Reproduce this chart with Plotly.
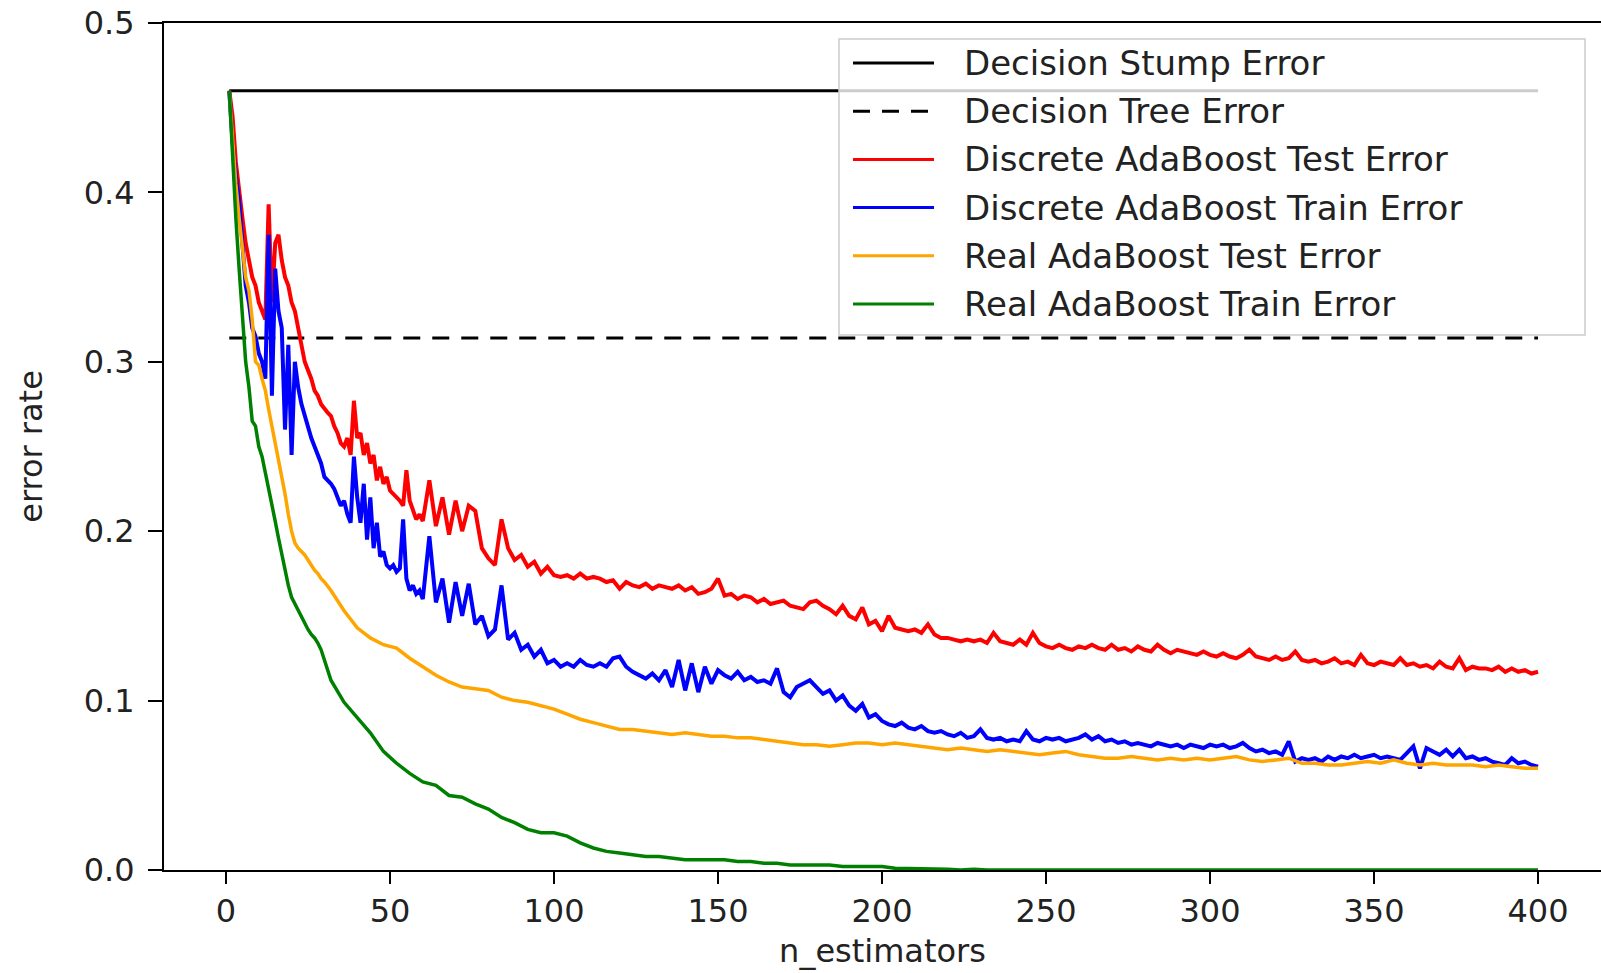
import plotly.graph_objects as go

# ---------------- data ----------------
n_discrete = list(range(1, 61)) + list(range(62, 401, 2))
n_real = list(range(1, 31)) + list(range(32, 401, 4))

stump_error = 0.46
tree_error = 0.314
ref_x = [1, 400]

discrete_test = [
    .46, .445, .418, .40, .385, .37, .36, .35, .345, .335,
    .33, .325, .393, .335, .37, .375, .36, .35, .345, .335,
    .33, .32, .31, .30, .295, .29, .283, .28, .275, .272,
    .27, .268, .262, .258, .252, .25, .255, .245, .277, .255,
    .258, .245, .252, .24, .245, .23, .238, .228, .232, .224,
    .222, .22, .218, .215, .236, .218, .212, .207, .21, .206,
    # 62..400 step 2
    .23, .203, .22, .198, .218, .2, .215, .212, .19, .184,
    .18, .207, .19, .183, .186, .179, .182, .175, .179, .174,
    .173, .174, .172, .175, .172, .173, .172, .17, .171, .166,
    .17, .168, .167, .169, .166, .168, .167, .166, .168, .165,
    .167, .163, .164, .166, .172, .162, .163, .16, .162, .161,
    .158, .16, .157, .158, .159, .156, .155, .154, .158, .159,
    .156, .154, .151, .156, .15, .148, .155, .145, .147, .141,
    .15, .143, .142, .141, .142, .14, .145, .139, .137, .137,
    .136, .135, .136, .135, .136, .134, .14, .135, .134, .133,
    .136, .133, .14, .134, .132, .131, .133, .131, .13, .132,
    .131, .133, .131, .13, .133, .13, .131, .129, .132, .13,
    .129, .133, .13, .128, .13, .129, .128, .127, .129, .127,
    .126, .128, .126, .125, .127, .13, .126, .125, .124, .126,
    .124, .125, .129, .124, .123, .124, .122, .123, .125, .122,
    .123, .121, .127, .122, .121, .123, .122, .121, .125, .121,
    .122, .12, .121, .119, .123, .12, .119, .125, .118, .12,
    .119, .119, .118, .12, .117, .119, .117, .118, .116, .117,
]

discrete_train = [
    .46, .43, .41, .395, .37, .345, .335, .32, .315, .305,
    .30, .29, .375, .28, .355, .33, .32, .26, .31, .245,
    .30, .285, .275, .268, .26, .255, .25, .245, .24, .232,
    .23, .228, .225, .22, .215, .218, .21, .205, .244, .22,
    .205, .228, .195, .22, .19, .205, .185, .188, .18, .178,
    .18, .176, .178, .207, .172, .165, .168, .163, .165, .16,
    # 62..400 step 2
    .197, .158, .172, .146, .17, .15, .169, .145, .15, .138,
    .142, .168, .136, .14, .13, .133, .126, .13, .122, .124,
    .12, .122, .12, .124, .121, .12, .122, .12, .125, .126,
    .12, .117, .115, .113, .116, .112, .118, .108, .124, .106,
    .122, .105, .12, .11, .118, .115, .113, .117, .112, .114,
    .111, .112, .11, .119, .105, .102, .108, .11, .112, .108,
    .104, .106, .1, .103, .097, .094, .098, .09, .092, .088,
    .086, .085, .087, .084, .083, .085, .082, .081, .082, .08,
    .079, .081, .078, .079, .083, .078, .077, .078, .076, .077,
    .076, .082, .077, .076, .078, .077, .078, .076, .077, .078,
    .08, .077, .079, .076, .077, .075, .076, .074, .075, .074,
    .073, .075, .074, .073, .074, .072, .074, .073, .072, .074,
    .073, .074, .072, .073, .075, .072, .07, .071, .069, .07,
    .068, .076, .064, .066, .065, .066, .064, .067, .065, .067,
    .066, .068, .066, .067, .068, .066, .067, .066, .065, .069,
    .073, .06, .072, .07, .068, .071, .067, .071, .066, .067,
    .065, .066, .064, .063, .062, .066, .063, .064, .062, .061,
]

real_test = [
    .46, .43, .405, .385, .365, .35, .342, .325, .30, .298,
    .29, .283, .272, .262, .252, .243, .232, .222, .21, .20,
    .193, .19, .188, .186, .183, .18, .177, .175, .172, .17,
    # 32..400 step 4
    .165, .153, .143, .137, .133, .131, .125, .12, .115, .111,
    .108, .107, .106, .102, .1, .099, .097, .095, .092, .089,
    .087, .085, .083, .083, .082, .081, .08, .081, .08, .079,
    .079, .078, .078, .077, .076, .075, .074, .074, .073, .074,
    .075, .075, .074, .075, .074, .073, .072, .071, .072, .071,
    .07, .071, .07, .069, .068, .069, .07, .068, .067, .066,
    .066, .067, .066, .065, .066, .065, .066, .065, .066, .067,
    .065, .064, .065, .066, .063, .063, .062, .062, .063, .064,
    .063, .065, .063, .062, .063, .062, .062, .062, .061, .062,
    .061, .06, .06,
]

real_train = [
    .46, .42, .385, .355, .325, .30, .285, .265, .262, .25,
    .244, .235, .226, .216, .206, .196, .186, .176, .168, .161,
    .157, .153, .149, .145, .142, .139, .137, .134, .13, .124,
    # 32..400 step 4
    .112, .099, .09, .081, .07, .063, .057, .052, .05, .044,
    .043, .039, .036, .031, .028, .024, .022, .022, .02, .016,
    .013, .011, .01, .009, .008, .008, .007, .006, .006, .006,
    .006, .005, .005, .004, .004, .003, .003, .003, .003, .002,
    .002, .002, .002, .001, .001, .001, .001, .0005, 0, .0005,
    0, 0, .0005, 0, 0, 0, .0005, 0, 0, 0,
    0, 0, 0, 0, 0, 0, 0, 0, 0, 0,
    0, 0, 0, 0, 0, 0, 0, 0, 0, 0,
    0, 0, 0, 0, 0, 0, 0, 0, 0, 0,
    0, 0, 0,
]

series_names = [
    "Decision Stump Error",
    "Decision Tree Error",
    "Discrete AdaBoost Test Error",
    "Discrete AdaBoost Train Error",
    "Real AdaBoost Test Error",
    "Real AdaBoost Train Error",
]
series_colors = ["black", "black", "red", "blue", "orange", "green"]
series_dash = ["solid", "17px,12px", "solid", "solid", "solid", "solid"]
series_width = [3, 3, 4, 4, 3.5, 3.5]

y_ticks = [0.0, 0.1, 0.2, 0.3, 0.4, 0.5]
x_ticks = [0, 50, 100, 150, 200, 250, 300, 350, 400]

# ---------------- figure ----------------
W, H = 1601, 973
ML, MR, MT, MB = 164, 0, 23, 103
FONT = "DejaVu Sans"
TXT = "#222222"

series = [
    (ref_x, [stump_error, stump_error]),
    (ref_x, [tree_error, tree_error]),
    (n_discrete, discrete_test),
    (n_discrete, discrete_train),
    (n_real, real_test),
    (n_real, real_train),
]

fig = go.Figure()
for (xs, ys), name, col, dash, lw in zip(series, series_names, series_colors,
                                         series_dash, series_width):
    fig.add_trace(go.Scatter(
        x=xs, y=ys, mode="lines", name=name,
        line=dict(color=col, width=lw, dash=dash),
        showlegend=False,
    ))

plot_w = W - ML - MR
plot_h = H - MT - MB


def px_to_paper_x(px):
    return (px - ML) / plot_w


def px_to_paper_y(py):
    return (H - MB - py) / plot_h


# legend (matplotlib-like framed box)
box_l, box_r, box_t, box_b = 839, 1585, 39, 335
shapes = [dict(
    type="rect", xref="paper", yref="paper", layer="above",
    x0=px_to_paper_x(box_l), x1=px_to_paper_x(box_r),
    y0=px_to_paper_y(box_b), y1=px_to_paper_y(box_t),
    fillcolor="rgba(255,255,255,0.8)",
    line=dict(color="#cccccc", width=1.5),
)]
annotations = []
row0, row_step = 63, 48.2
for i, (name, col, dash, lw) in enumerate(zip(series_names, series_colors,
                                              series_dash, series_width)):
    yy = px_to_paper_y(row0 + i * row_step)
    shapes.append(dict(
        type="line", xref="paper", yref="paper", layer="above",
        x0=px_to_paper_x(853), x1=px_to_paper_x(934), y0=yy, y1=yy,
        line=dict(color=col, width=3, dash=dash),
    ))
    annotations.append(dict(
        xref="paper", yref="paper", x=px_to_paper_x(962), y=yy,
        xanchor="left", yanchor="middle", showarrow=False,
        text=name, font=dict(family=FONT, size=34, color=TXT),
    ))

axis_common = dict(
    showgrid=False, zeroline=False, showline=True,
    linecolor="black", linewidth=2,
    ticks="outside", tickwidth=2, tickcolor="black",
    tickfont=dict(family=FONT, size=32, color=TXT),
)

fig.update_layout(
    width=W, height=H,
    margin=dict(l=ML, r=MR, t=MT, b=MB, autoexpand=False),
    paper_bgcolor="white", plot_bgcolor="white",
    font=dict(family=FONT, color=TXT),
    shapes=shapes, annotations=annotations,
    xaxis=dict(
        **axis_common,
        range=[-18.9, 419.2], tickvals=x_ticks, ticklen=12,
        mirror=True, ticklabelstandoff=0,
        title=dict(text="n_estimators", font=dict(family=FONT, size=32, color=TXT), standoff=10),
    ),
    yaxis=dict(
        **axis_common,
        range=[0, 0.5], tickvals=y_ticks, tickformat=".1f", ticklen=14,
        ticklabelstandoff=7,
        title=dict(text="error rate", font=dict(family=FONT, size=32, color=TXT), standoff=32),
    ),
)

fig.write_html(
    "out.html",
    config={"displayModeBar": False},
    post_script="document.body.style.margin='0';document.body.style.overflow='hidden';",
)
